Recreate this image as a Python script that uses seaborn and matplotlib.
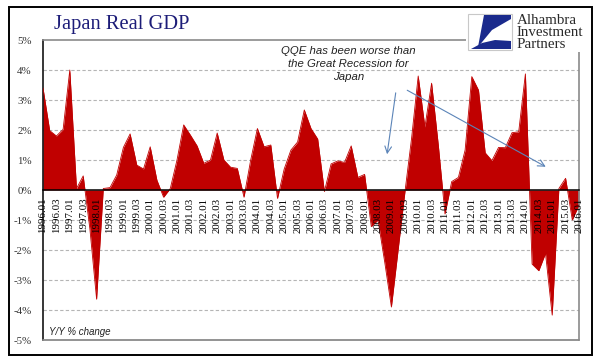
import numpy as np
import pandas as pd
import seaborn as sns
import matplotlib.pyplot as plt
from matplotlib.patches import Rectangle, Polygon

# quarterly Y/Y % change, 1996Q1 .. 2016Q1
years = list(range(1996, 2017))
gdp_yoy = [3.4, 1.98, 1.8, 2.02, 4.0, 0.05, 0.47, -1.3, -3.64, 0.05,
           0.08, 0.5, 1.42, 1.87, 0.83, 0.7, 1.44, 0.33, -0.24, 0.05,
           1.0, 2.17, 1.83, 1.47, 0.89, 1.0, 1.9, 1.0, 0.76, 0.72,
           -0.24, 1.0, 2.05, 1.44, 1.5, -0.28, 0.7, 1.33, 1.6, 2.67,
           2.05, 1.7, -0.05, 0.87, 0.97, 0.92, 1.47, 0.42, 0.52, -1.22,
           -1.0, -2.4, -3.9, -2.0, -0.1, 1.7, 3.8, 2.1, 3.56, 1.5,
           -0.8, 0.28, 0.42, 1.33, 3.78, 3.33, 1.24, 0.98, 1.42, 1.41,
           1.91, 1.94, 3.87, -2.47, -2.69, -2.11, -4.17, 0.05, 0.39, -1.0,
           -0.5]
quarters = [f"{y}.{q:02d}" for y in years for q in (1, 2, 3, 4)][:len(gdp_yoy)]
tick_labels = [q if q.endswith((".01", ".03")) else "" for q in quarters]
y_ticks = [-5, -4, -3, -2, -1, 0, 1, 2, 3, 4, 5]

df = pd.DataFrame({"pos": range(len(gdp_yoy)), "quarter": quarters, "yoy": gdp_yoy})

sns.set_style("white")
plt.rcParams["font.family"] = ["Liberation Serif", "DejaVu Serif"]

W, H = 606, 361
fig = plt.figure(figsize=(W / 100, H / 100), dpi=100)
ax = fig.add_axes([43 / W, 1 - 340 / H, (579 - 43) / W, (340 - 40) / H])

red = "#C00000"
ax.fill_between(df["pos"], df["yoy"], 0, color=red, lw=0, zorder=2)
sns.lineplot(data=df, x="pos", y="yoy", color=red, lw=0.6, ax=ax, zorder=3)

ax.set_xlim(0, len(gdp_yoy) - 1)
ax.set_ylim(-5, 5)
ax.set_xlabel("")
ax.set_ylabel("")

for v in y_ticks[1:-1]:
    if v != 0:
        ax.axhline(v, color="#b5b5b5", lw=0.8, ls=(0, (3, 2)), zorder=1)
ax.axhline(-5, color="#8a8a8a", lw=1.3, clip_on=False, zorder=4)

ax.spines["bottom"].set_position(("data", 0))
ax.spines["bottom"].set_color("black")
ax.spines["bottom"].set_linewidth(1.1)
ax.spines["bottom"].set_zorder(5)
ax.spines["left"].set_color("black")
ax.spines["left"].set_linewidth(1.1)
for s in ("top", "right"):
    ax.spines[s].set_color("#8a8a8a")
    ax.spines[s].set_linewidth(1.2)

ax.set_xticks(df["pos"])
ax.set_xticklabels(tick_labels, rotation=90, fontsize=7.8, color="black")
ax.tick_params(axis="x", direction="out", length=4, width=0.9, color="black", pad=1.5)
ax.xaxis.set_zorder(6)
ax.set_yticks(y_ticks)
ax.set_yticklabels([f"{v}%" for v in y_ticks], fontsize=7.8, color="#333333")
ax.tick_params(axis="y", length=0, pad=8)

# annotation
ax.text(0.575, 0.822, "QQE has been worse than\nthe Great Recession for\nJapan",
        transform=fig.transFigure, ha="center", va="center", fontsize=8.2,
        style="italic", linespacing=1.35, color="#222222",
        family=["Liberation Sans", "DejaVu Sans"])
arrow = dict(arrowstyle="->", color="#5b84b8", lw=0.8, mutation_scale=12)
ax.annotate("", xy=(51.3, 1.1), xytext=(52.7, 3.33), arrowprops=arrow)
ax.annotate("", xy=(75.4, 0.73), xytext=(54.0, 3.37), arrowprops=arrow)

ax.text(49 / W, 1 - 332 / H, "Y/Y % change", transform=fig.transFigure,
        ha="left", va="center", fontsize=7, style="italic", color="#222222",
        family=["Liberation Sans", "DejaVu Sans"])

# title
fig.text(54 / W, 1 - 25 / H, "Japan Real GDP", ha="left", va="center",
         fontsize=14.8, color="#1c1c78")

# logo area
fig.patches.append(Rectangle((466 / W, 1 - 52 / H), (591 - 466) / W, (52 - 8) / H,
                             transform=fig.transFigure, facecolor="white",
                             edgecolor="none", zorder=5))
fig.patches.append(Rectangle((468 / W, 1 - 50 / H), 44 / W, 36 / H,
                             transform=fig.transFigure, facecolor="white",
                             edgecolor="#c8c8c8", lw=0.8, zorder=6))
px = lambda pts: [(x / W, 1 - y / H) for x, y in pts]
navy = "#1a2a8c"
fig.patches.append(Polygon(px([(484, 15), (511, 15), (511, 19), (492, 30), (478, 47)]),
                           closed=True, transform=fig.transFigure, facecolor=navy,
                           edgecolor="none", zorder=7))
fig.patches.append(Polygon(px([(471, 49), (511, 49), (511, 41), (495, 40), (482, 43)]),
                           closed=True, transform=fig.transFigure, facecolor=navy,
                           edgecolor="none", zorder=7))
for txt, yy in (("Alhambra", 20), ("Investment", 32), ("Partners", 44)):
    fig.text(517 / W, 1 - yy / H, txt, ha="left", va="center", fontsize=10.8,
             color="#2a2a2a", zorder=8)

# outer frame
fig.patches.append(Rectangle((9 / W, 1 - 355 / H), (592 - 9) / W, (355 - 7) / H,
                             transform=fig.transFigure, facecolor="none",
                             edgecolor="black", lw=1.4, zorder=9))

fig.savefig("out.png", dpi=100)
